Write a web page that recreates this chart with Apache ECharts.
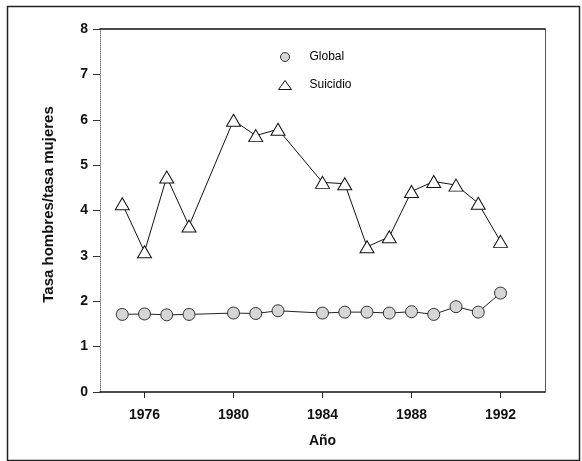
<!DOCTYPE html>
<html>
<head>
<meta charset="utf-8">
<script src="https://cdn.jsdelivr.net/npm/echarts@6/dist/echarts.min.js"></script>
<style>
html,body{margin:0;padding:0;background:#fff;}
#chart{width:582px;height:461px;}
</style>
</head>
<body>
<div id="chart"></div>
<script>
const years = [1975,1976,1977,1978,1980,1981,1982,1984,1985,1986,1987,1988,1989,1990,1991,1992];
const globalVals = [1.71,1.72,1.70,1.71,1.74,1.73,1.79,1.74,1.76,1.76,1.74,1.77,1.71,1.88,1.76,2.18];
const suicidioVals = [4.15,3.09,4.74,3.66,5.99,5.65,5.79,4.62,4.59,3.20,3.42,4.42,4.64,4.56,4.16,3.32];
const xTicks = [1976,1980,1984,1988,1992];
const seriesNames = ['Global','Suicidio'];

const FONT = '"Liberation Sans", Arial, sans-serif';
const chart = echarts.init(document.getElementById('chart'), null, {renderer:'canvas'});

const option = {
  backgroundColor:'#fff',
  animation:false,
  graphic:[{
    type:'rect', left:5, top:4, silent:true,
    shape:{x:0,y:0,width:572,height:454},
    style:{fill:'none',stroke:'#222',lineWidth:1.5}
  }],
  grid:{left:100,right:37,top:29,bottom:69,containLabel:false},
  legend:{
    orient:'vertical', left:273, top:46, itemWidth:13, itemHeight:9, itemGap:16,
    textStyle:{fontFamily:FONT,fontSize:12,color:'#000',padding:[0,0,0,13]},
    data:[
      {name:seriesNames[0], icon:'circle', itemStyle:{color:'#d6d6d6',borderColor:'#333',borderWidth:1}},
      {name:seriesNames[1], icon:'triangle', itemStyle:{color:'#fff',borderColor:'#111',borderWidth:1}}
    ]
  },
  xAxis:[{
    type:'value', min:1974, max:1994,
    name:'Año', nameLocation:'middle', nameGap:42,
    nameTextStyle:{fontFamily:FONT,fontSize:14,fontWeight:'bold',color:'#111'},
    axisLine:{show:true,lineStyle:{color:'#111',width:1.5}},
    axisTick:{show:true,length:6,customValues:xTicks,lineStyle:{color:'#222'}},
    axisLabel:{fontFamily:FONT,fontSize:14,fontWeight:'bold',color:'#111',margin:16,customValues:xTicks,
      formatter:function(v){return String(v);}},
    splitLine:{show:false}
  },{
    type:'value', min:1974, max:1994, position:'top',
    axisLine:{show:true,onZero:false,lineStyle:{color:'#111',width:1.5}},
    axisTick:{show:false}, axisLabel:{show:false}, splitLine:{show:false}
  }],
  yAxis:[{
    type:'value', min:0, max:8, interval:1,
    name:'Tasa hombres/tasa mujeres', nameLocation:'middle', nameGap:44,
    nameTextStyle:{fontFamily:FONT,fontSize:15,fontWeight:'bold',color:'#111',padding:[0,0,0,12]},
    axisLine:{show:true,onZero:false,lineStyle:{color:'#777',width:1,type:'dotted'}},
    axisTick:{show:true,length:7,lineStyle:{color:'#333'}},
    axisLabel:{fontFamily:FONT,fontSize:14,fontWeight:'bold',color:'#111',margin:12},
    splitLine:{show:false}
  },{
    type:'value', min:0, max:8, interval:1, position:'right',
    axisLine:{show:true,onZero:false,lineStyle:{color:'#555',width:1}},
    axisTick:{show:false}, axisLabel:{show:false}, splitLine:{show:false}
  }],
  series:[{
    name:seriesNames[0], type:'line',
    data:years.map((y,i)=>[y,globalVals[i]]),
    symbol:'circle', symbolSize:12, showAllSymbol:true,
    lineStyle:{color:'#222',width:1},
    itemStyle:{color:'#d6d6d6',borderColor:'#333',borderWidth:1},
    z:3
  },{
    name:seriesNames[1], type:'line',
    data:years.map((y,i)=>[y,suicidioVals[i]]),
    symbol:'triangle', symbolSize:[14,12], showAllSymbol:true,
    lineStyle:{color:'#111',width:1},
    itemStyle:{color:'#fff',borderColor:'#111',borderWidth:1},
    z:3
  }]
};
chart.setOption(option);
</script>
</body>
</html>
